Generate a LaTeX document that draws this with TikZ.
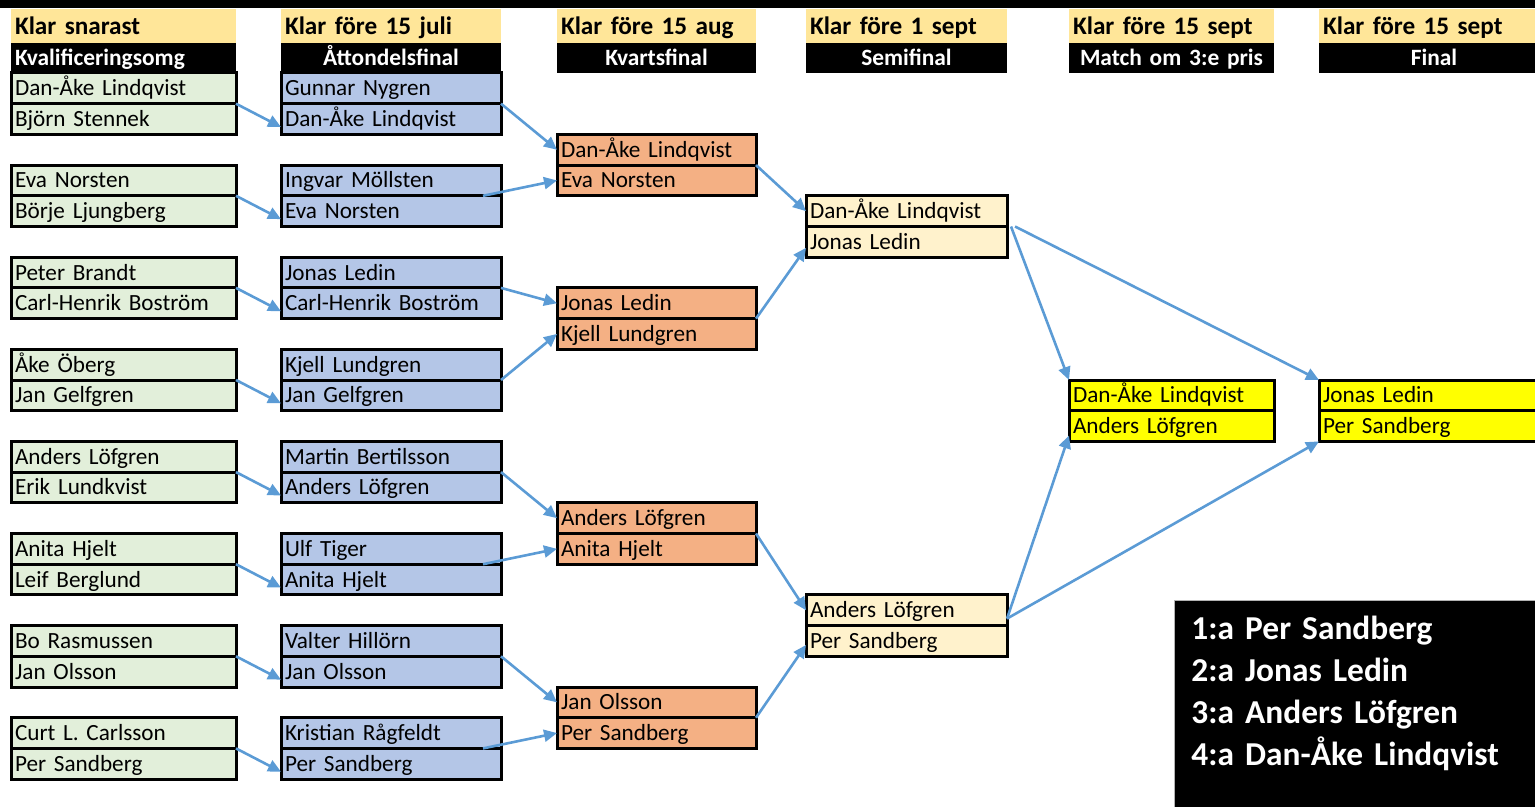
\documentclass[tikz,border=0pt]{standalone}
\usepackage{fontspec}
\setmainfont{Carlito}
\usepackage{tikz}
\usetikzlibrary{arrows.meta}
\definecolor{kvalgron}{HTML}{E2EFDA}
\definecolor{attbla}{HTML}{B4C6E7}
\definecolor{kvartorange}{HTML}{F4B084}
\definecolor{semigul}{HTML}{FFF2CC}
\definecolor{finalgul}{HTML}{FFFF00}
\definecolor{rubrikgul}{HTML}{FFE699}
\definecolor{pilbla}{HTML}{5B9BD5}
\tikzset{spelare/.style={draw=black, line width=1.5pt, anchor=north west, outer sep=0pt,
    minimum height=15.35pt, inner xsep=2pt, inner ysep=0pt, align=left,
    text height=10pt, text depth=2.5pt, font=\fontsize{11.6}{13}\selectfont}}
\tikzset{rubrik/.style={fill=rubrikgul, anchor=north west, outer sep=0pt, minimum height=17pt,
    inner xsep=2pt, inner ysep=0pt, align=left,
    text height=11pt, text depth=2pt, font=\fontsize{12.6}{14}\selectfont\bfseries}}
\tikzset{omgang/.style={fill=black, text=white, anchor=north west, outer sep=0pt,
    minimum height=15pt, inner xsep=2pt, inner ysep=0pt, text height=10.5pt, text depth=2.5pt,
    font=\fontsize{11.7}{13}\selectfont\bfseries}}
\tikzset{pil/.style={draw=pilbla, line width=1.3pt, -{Triangle[length=6.5pt,width=6pt]}}}
% kolumn: [justering], namn, x, bredd, datum, omgang
\newcommand{\kolumn}[6][center]{%
  \node[rubrik, text width=#4-4pt] (#2h) at (#3,9) {#5};
  \node[omgang, text width=#4-4pt, align=#1] (#2o) at (#2h.south west) {#6};}
% match: namn, x, rad, bredd, farg, ovre, undre
\newcommand{\match}[7]{%
  \node[spelare, fill=#5, text width=#4-4pt] (#1a) at (#2,{73+30.7*#3}) {#6};
  \node[spelare, fill=#5, text width=#4-4pt] (#1b) at (#1a.south west) {#7};}

\begin{document}
\begin{tikzpicture}[x=0.5pt, y=-0.5pt]
  \useasboundingbox (0,0) rectangle (1535,807);
  \fill[black] (0,0) rectangle (1535,8);

  \kolumn[left]{k}{11}{112.5pt}{Klar snarast}{Kvalificeringsomg}
  \kolumn{a}{281}{110pt}{Klar före 15 juli}{Åttondelsfinal}
  \kolumn{q}{557}{99.5pt}{Klar före 15 aug}{Kvartsfinal}
  \kolumn{s}{806}{100.5pt}{Klar före 1 sept}{Semifinal}
  \kolumn{b}{1069}{102.5pt}{Klar före 15 sept}{Match om 3:e pris}
  \kolumn{f}{1319}{115pt}{Klar före 15 sept}{Final}

  % kvalificeringsomg
  \match{k1}{11}{0}{112.5pt}{kvalgron}{Dan-Åke Lindqvist}{Björn Stennek}
  \match{k2}{11}{3}{112.5pt}{kvalgron}{Eva Norsten}{Börje Ljungberg}
  \match{k3}{11}{6}{112.5pt}{kvalgron}{Peter Brandt}{Carl-Henrik Boström}
  \match{k4}{11}{9}{112.5pt}{kvalgron}{Åke Öberg}{Jan Gelfgren}
  \match{k5}{11}{12}{112.5pt}{kvalgron}{Anders Löfgren}{Erik Lundkvist}
  \match{k6}{11}{15}{112.5pt}{kvalgron}{Anita Hjelt}{Leif Berglund}
  \match{k7}{11}{18}{112.5pt}{kvalgron}{Bo Rasmussen}{Jan Olsson}
  \match{k8}{11}{21}{112.5pt}{kvalgron}{Curt L. Carlsson}{Per Sandberg}

  % attondelsfinal
  \match{a1}{281}{0}{110pt}{attbla}{Gunnar Nygren}{Dan-Åke Lindqvist}
  \match{a2}{281}{3}{110pt}{attbla}{Ingvar Möllsten}{Eva Norsten}
  \match{a3}{281}{6}{110pt}{attbla}{Jonas Ledin}{Carl-Henrik Boström}
  \match{a4}{281}{9}{110pt}{attbla}{Kjell Lundgren}{Jan Gelfgren}
  \match{a5}{281}{12}{110pt}{attbla}{Martin Bertilsson}{Anders Löfgren}
  \match{a6}{281}{15}{110pt}{attbla}{Ulf Tiger}{Anita Hjelt}
  \match{a7}{281}{18}{110pt}{attbla}{Valter Hillörn}{Jan Olsson}
  \match{a8}{281}{21}{110pt}{attbla}{Kristian Rågfeldt}{Per Sandberg}

  % kvartsfinal, semifinal, final
  \match{q1}{557}{2}{99.5pt}{kvartorange}{Dan-Åke Lindqvist}{Eva Norsten}
  \match{q2}{557}{7}{99.5pt}{kvartorange}{Jonas Ledin}{Kjell Lundgren}
  \match{q3}{557}{14}{99.5pt}{kvartorange}{Anders Löfgren}{Anita Hjelt}
  \match{q4}{557}{20}{99.5pt}{kvartorange}{Jan Olsson}{Per Sandberg}
  \match{s1}{806}{4}{100.5pt}{semigul}{Dan-Åke Lindqvist}{Jonas Ledin}
  \match{s2}{806}{17}{100.5pt}{semigul}{Anders Löfgren}{Per Sandberg}
  \match{b1}{1069}{10}{102.5pt}{finalgul}{Dan-Åke Lindqvist}{Anders Löfgren}
  \match{f1}{1319}{10}{115pt}{finalgul}{Jonas Ledin}{Per Sandberg}

  % pilar
  \foreach \i in {1,...,8}
    \draw[pil] (k\i a.south east) -- ([yshift=-4pt]a\i b.west);
  \draw[pil] (a1a.south east) -- (q1a.west);
  \draw[pil] ([xshift=-9pt]a2a.south east) -- (q1b.west);
  \draw[pil] (a3a.south east) -- (q2a.west);
  \draw[pil] (a4a.south east) -- (q2b.west);
  \draw[pil] (a5a.south east) -- (q3a.west);
  \draw[pil] ([xshift=-9pt]a6a.south east) -- (q3b.west);
  \draw[pil] (a7a.south east) -- (q4a.west);
  \draw[pil] ([xshift=-9pt]a8a.south east) -- (q4b.west);
  \draw[pil] (q1a.south east) -- (s1a.west);
  \draw[pil] (q2a.south east) -- ([yshift=-3pt]s1b.west);
  \draw[pil] (q3a.south east) -- (s2a.west);
  \draw[pil] (q4a.south east) -- ([yshift=-2pt]s2b.west);
  \draw[pil] ([xshift=2pt]s1a.south east) -- (b1a.north west);
  \draw[pil] ([xshift=4pt]s1a.south east) -- (f1a.north west);
  \draw[pil] ([yshift=3.5pt]s2a.south east) -- ([yshift=3pt]b1b.south west);
  \draw[pil] ([yshift=3.5pt]s2a.south east) -- (f1b.south west);

  % resultat
  \node[fill=black, draw=gray!60, line width=0.6pt, anchor=north west,
    minimum width=185pt, minimum height=110pt] (resbox) at (1174,600) {};
  \node[anchor=base west, text=white, text width=180pt, inner sep=0pt, align=left,
    font=\fontsize{16.7}{21}\selectfont\bfseries] (resultat) at (1191,639)
    {1:a Per Sandberg\\2:a Jonas Ledin\\3:a Anders Löfgren\\4:a Dan-Åke Lindqvist};
\end{tikzpicture}
\end{document}
